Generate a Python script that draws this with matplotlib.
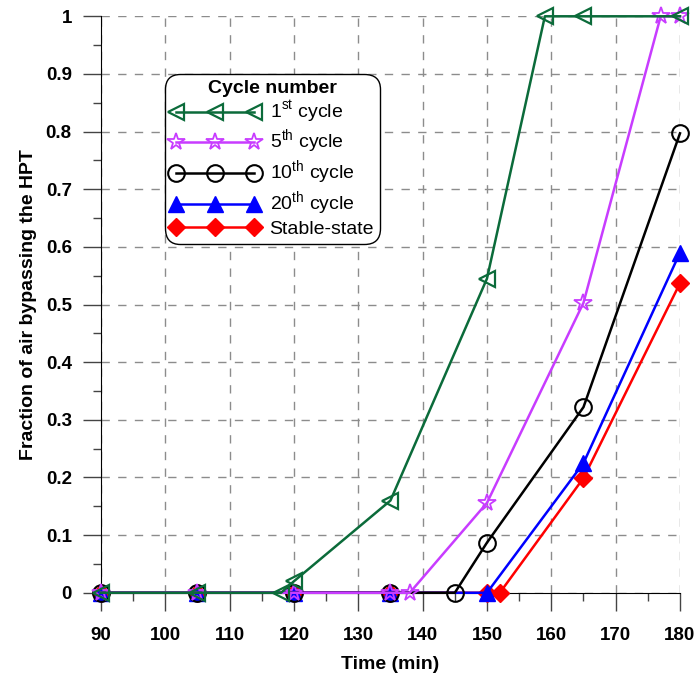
import numpy as np
import matplotlib
matplotlib.use('Agg')
import matplotlib.pyplot as plt
from matplotlib.ticker import MultipleLocator

plt.rcParams['font.family'] = ['Liberation Sans', 'DejaVu Sans']
plt.rcParams['mathtext.fontset'] = 'custom'
plt.rcParams['mathtext.rm'] = 'Liberation Sans'

# data
t_1st = [90, 105, 118, 120, 135, 150, 159, 165, 180]
f_1st = [0, 0, 0, 0.02, 0.16, 0.545, 1.0, 1.0, 1.0]

t_5th = [90, 105, 120, 135, 138, 150, 165, 177, 180]
f_5th = [0, 0, 0, 0, 0, 0.156, 0.503, 1.0, 1.0]

t_10th = [90, 105, 120, 135, 145, 150, 165, 180]
f_10th = [0, 0, 0, 0, 0, 0.087, 0.322, 0.797]

t_20th = [90, 105, 120, 135, 150, 165, 180]
f_20th = [0, 0, 0, 0, 0, 0.225, 0.59]

t_stable = [90, 105, 120, 135, 150, 152, 165, 180]
f_stable = [0, 0, 0, 0, 0, 0, 0.199, 0.537]

labels = ['1$^{\\mathrm{st}}$ cycle', '5$^{\\mathrm{th}}$ cycle', '10$^{\\mathrm{th}}$ cycle',
          '20$^{\\mathrm{th}}$ cycle', 'Stable-state']

fig = plt.figure(figsize=(6.96, 6.79), dpi=100)
ax = fig.add_axes([0.145, 0.127, 0.832, 0.849])

# draw lines (last series at the back)
ax.plot(t_1st, f_1st, color='#0b6b3a', marker='<', markersize=12, markerfacecolor='none',
        markeredgewidth=1.6, linewidth=1.8, label=labels[0], zorder=7, clip_on=False)
ax.plot(t_5th, f_5th, color='#c83cff', marker='*', markersize=13, markerfacecolor='none',
        markeredgewidth=1.3, linewidth=1.8, label=labels[1], zorder=6, clip_on=False)
ax.plot(t_10th, f_10th, color='black', marker='o', markersize=12, markerfacecolor='none',
        markeredgewidth=1.5, linewidth=1.8, label=labels[2], zorder=5, clip_on=False)
ax.plot(t_20th, f_20th, color='#0000ff', marker='^', markersize=12,
        linewidth=1.8, label=labels[3], zorder=4, clip_on=False)
ax.plot(t_stable, f_stable, color='#ff0000', marker='D', markersize=9.5,
        linewidth=1.8, label=labels[4], zorder=3, clip_on=False)

# axes limits and ticks
ax.set_xlim(90, 180)
ax.set_ylim(0, 1)
ax.xaxis.set_major_locator(MultipleLocator(10))
ax.xaxis.set_minor_locator(MultipleLocator(5))
ax.yaxis.set_minor_locator(MultipleLocator(0.05))
ax.set_yticks(np.arange(0, 1.01, 0.1))
ax.set_yticklabels(['0', '0.1', '0.2', '0.3', '0.4', '0.5', '0.6', '0.7', '0.8', '0.9', '1'])
ax.tick_params(which='major', direction='out', length=13, width=1, color='#444444')
ax.tick_params(which='minor', direction='out', length=6, width=1, color='#444444')
ax.tick_params(axis='x', which='major', pad=12)
ax.tick_params(axis='y', which='major', pad=8)
for lab in ax.get_xticklabels() + ax.get_yticklabels():
    lab.set_fontweight('bold')
    lab.set_fontsize(13.5)

ax.spines['top'].set_visible(False)
ax.spines['right'].set_visible(False)
ax.grid(True, which='major', color='#8c8c8c', linestyle=(0, (6, 6)), linewidth=1)
ax.set_axisbelow(True)

ax.set_xlabel('Time (min)', fontsize=14, fontweight='bold', labelpad=8)
ax.set_ylabel('Fraction of air bypassing the HPT', fontsize=14, fontweight='bold', labelpad=6)

leg = ax.legend(loc='upper left', bbox_to_anchor=(0.11, 0.9), numpoints=3,
                title='Cycle number', fontsize=14, frameon=True, fancybox=True,
                handlelength=4.6, handletextpad=0.5, borderpad=0.3, labelspacing=0.12,
                borderaxespad=0, framealpha=1)
leg.get_title().set_fontweight('bold')
leg.get_title().set_fontsize(14)
leg.get_frame().set_edgecolor('black')
leg.get_frame().set_linewidth(1)
leg.get_frame().set_boxstyle('round', pad=0, rounding_size=0.8)
leg.set_zorder(10)

fig.savefig('out.png', dpi=100)
